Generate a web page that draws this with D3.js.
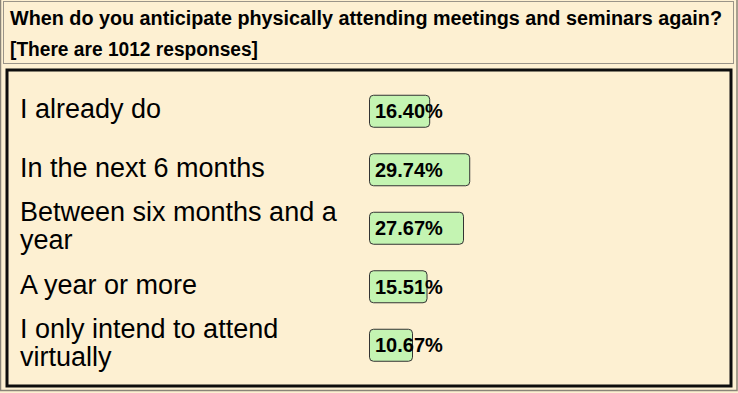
<!DOCTYPE html>
<html><head><meta charset="utf-8">
<script src="https://cdn.jsdelivr.net/npm/d3@7"></script>
<style>
html,body{margin:0;padding:0;background:#fdf0d2;}
svg{display:block;font-family:"Liberation Sans",Arial,sans-serif;}
</style></head>
<body>
<script>
const titleLines = ["When do you anticipate physically attending meetings and seminars again?", "[There are 1012 responses]"];
const titleWidths = [712, 248];
const categories = [
  ["I already do"],
  ["In the next 6 months"],
  ["Between six months and a", "year"],
  ["A year or more"],
  ["I only intend to attend", "virtually"]
];
const values = [16.40, 29.74, 27.67, 15.51, 10.67];

const W = 738, H = 393;
const svg = d3.select("body").append("svg").attr("width", W).attr("height", H);

svg.append("rect").attr("x",0).attr("y",0).attr("width",W).attr("height",H).attr("fill","#fdf0d2");
// outer frame
svg.append("rect").attr("x",0.5).attr("y",-1).attr("width",736.5).attr("height",391.5)
  .attr("fill","none").attr("stroke","#8a8478").attr("stroke-width",1.5);
// header box
svg.append("rect").attr("x",3.5).attr("y",1.5).attr("width",730).attr("height",62)
  .attr("fill","none").attr("stroke","#9a9488").attr("stroke-width",1);
svg.selectAll("text.title").data(titleLines).join("text")
  .attr("class","title")
  .attr("x",10).attr("y",(d,i)=>25 + i*31)
  .attr("font-size",20).attr("font-weight","bold").attr("fill","#000")
  .attr("textLength",(d,i)=>titleWidths[i]).attr("lengthAdjust","spacingAndGlyphs")
  .text(d=>d);

// main box
svg.append("rect").attr("x",7).attr("y",70).attr("width",724).attr("height",316)
  .attr("fill","none").attr("stroke","#0d0d0d").attr("stroke-width",3);

const y = d3.scaleBand().domain(d3.range(categories.length)).range([81.5, 374]).paddingInner(0);
const x = d3.scaleLinear().domain([0,100]).range([11, 311]);
const barX = 369;

const rows = svg.selectAll("g.row").data(values).join("g").attr("class","row")
  .attr("transform",(d,i)=>`translate(0,${y(i)+y.bandwidth()/2})`);

rows.each(function(d,i){
  const g = d3.select(this);
  const lines = categories[i];
  const lh = 28;
  g.selectAll("text.lab").data(lines).join("text").attr("class","lab")
    .attr("x",20)
    .attr("y",(l,j)=> 7.5 + (j - (lines.length-1)/2)*lh)
    .attr("font-size",27).attr("fill","#000")
    .text(l=>l);
  g.append("rect").attr("x",barX+0.5).attr("y",-15.5).attr("width",x(d)).attr("height",32)
    .attr("rx",4).attr("fill","#c4f4b2").attr("stroke","#333").attr("stroke-width",1);
  g.append("text").attr("x",barX+6).attr("y",7.5)
    .attr("font-size",20).attr("font-weight","bold").attr("fill","#000")
    .text(d.toFixed(2)+"%");
});
</script>
</body></html>
